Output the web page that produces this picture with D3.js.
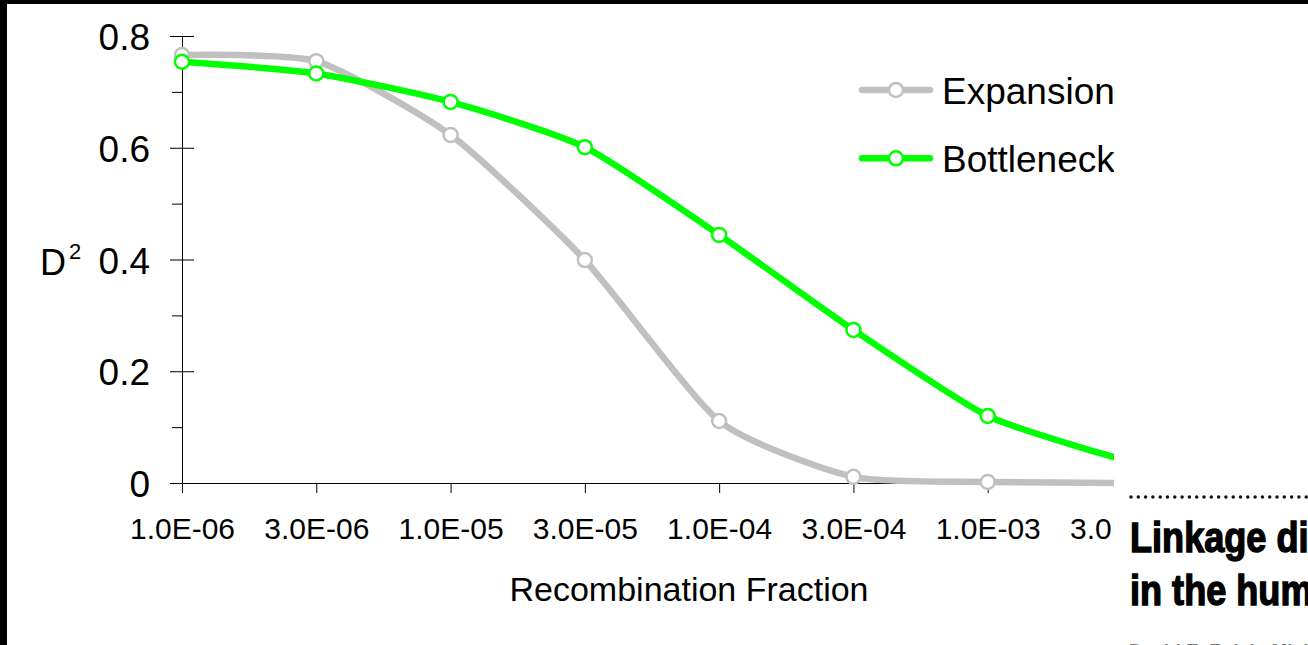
<!DOCTYPE html>
<html>
<head>
<meta charset="utf-8">
<script src="https://d3js.org/d3.v7.min.js"></script>
<style>
    body { margin: 0; background: #fff; }
    svg { display: block; font-family: 'Liberation Sans', Arial, sans-serif; }
</style>
</head>
<body>
<div id="chart"></div>
<script>
// Data
const categories = ['1.0E-06', '3.0E-06', '1.0E-05', '3.0E-05', '1.0E-04', '3.0E-04', '1.0E-03', '3.0E-03'];
const expansion = [0.766, 0.755, 0.623, 0.399, 0.111, 0.011, 0.002, 0.0];
const bottleneck = [0.754, 0.733, 0.682, 0.601, 0.444, 0.274, 0.12, 0.042];
const seriesNames = ['Expansion', 'Bottleneck'];
const yMajorTicks = [0, 0.2, 0.4, 0.6, 0.8];
const yMinorTicks = [0.1, 0.3, 0.5, 0.7];
const headline = ['Linkage disequilibrium', 'in the human genome'];
const byline = 'David E. Reich, Michele Cargill, Stacey Bolk';

const W = 1308, H = 645;
const colors = { Expansion: '#c0c0c0', Bottleneck: '#00ff00' };

const svg = d3.select('#chart')
    .append('svg')
    .attr('width', W)
    .attr('height', H);

svg.append('rect').attr('width', W).attr('height', H).attr('fill', '#fff');

// chart is cut off on the right
svg.append('clipPath')
    .attr('id', 'cut')
    .append('rect')
    .attr('x', 0).attr('y', 0)
    .attr('width', 1114).attr('height', H);

const chart = svg.append('g').attr('clip-path', 'url(#cut)');

// Scales
const x = d3.scalePoint()
    .domain(categories)
    .range([182, 1122]);

const y = d3.scaleLinear()
    .domain([0, 0.8])
    .range([483, 36]);

// Y axis (major ticks cross the axis line)
const yAxis = chart.append('g')
    .attr('transform', 'translate(182,0)')
    .call(d3.axisLeft(y)
        .tickValues(yMajorTicks)
        .tickSizeInner(12)
        .tickSizeOuter(0)
        .tickFormat(d => d === 0 ? '0' : d.toFixed(1)));
yAxis.selectAll('.tick line').attr('x1', 12).attr('x2', -12);
yAxis.selectAll('.tick text')
    .attr('x', -32)
    .attr('dy', '0.37em')
    .style('font-size', '37px')
    .style('font-family', "'Liberation Sans', Arial, sans-serif")
    .attr('fill', '#000');

// minor ticks
chart.append('g')
    .attr('transform', 'translate(182,0)')
    .call(d3.axisLeft(y)
        .tickValues(yMinorTicks)
        .tickSize(10)
        .tickFormat(''))
    .select('.domain').remove();

// X axis
const xAxis = chart.append('g')
    .attr('transform', 'translate(0,483)')
    .call(d3.axisBottom(x)
        .tickSizeInner(10)
        .tickSizeOuter(0)
        .tickPadding(24.7));
xAxis.selectAll('.tick text')
    .style('font-size', '30px')
    .style('font-family', "'Liberation Sans', Arial, sans-serif")
    .attr('fill', '#000');

// Axis titles
chart.append('text')
    .attr('x', 689)
    .attr('y', 601)
    .attr('text-anchor', 'middle')
    .style('font-size', '34px')
    .text('Recombination Fraction');

const yTitle = chart.append('text')
    .attr('x', 40)
    .attr('y', 275)
    .style('font-size', '36px');
yTitle.append('tspan').text('D');
yTitle.append('tspan')
    .attr('dx', 3)
    .attr('dy', -16)
    .style('font-size', '22px')
    .text('2');

// Lines
const line = d3.line()
    .x((d, i) => x(categories[i]))
    .y(d => y(d))
    .curve(d3.curveCardinal.tension(0.4));

[[seriesNames[0], expansion], [seriesNames[1], bottleneck]].forEach(([name, values]) => {
    const c = colors[name];
    chart.append('path')
        .datum(values)
        .attr('d', line)
        .attr('fill', 'none')
        .attr('stroke', c)
        .attr('stroke-width', 6.5)
        .attr('stroke-linejoin', 'round');

    chart.selectAll(null)
        .data(values)
        .enter()
        .append('circle')
        .attr('cx', (d, i) => x(categories[i]))
        .attr('cy', d => y(d))
        .attr('r', 7)
        .attr('fill', '#fff')
        .attr('stroke', c)
        .attr('stroke-width', 2.5);
});

// Legend
const legend = chart.append('g');
seriesNames.forEach((name, i) => {
    const ly = 90 + i * 68.3;
    legend.append('line')
        .attr('x1', 862).attr('x2', 930)
        .attr('y1', ly).attr('y2', ly)
        .attr('stroke', colors[name])
        .attr('stroke-width', 6.5)
        .attr('stroke-linecap', 'round');
    legend.append('circle')
        .attr('cx', 896).attr('cy', ly)
        .attr('r', 7)
        .attr('fill', '#fff')
        .attr('stroke', colors[name])
        .attr('stroke-width', 2.5);
    legend.append('text')
        .attr('x', 942)
        .attr('y', ly + 13.5)
        .style('font-size', '37px')
        .text(name);
});

// Frame bits from the scan
svg.append('rect').attr('x', 0).attr('y', 0).attr('width', W).attr('height', 4).attr('fill', '#000');
svg.append('rect').attr('x', 0).attr('y', 0).attr('width', 7).attr('height', H).attr('fill', '#000');

// Article snippet on the right (condensed heavy headline)
const article = svg.append('g');
article.append('line')
    .attr('x1', 1131).attr('x2', W)
    .attr('y1', 497).attr('y2', 497)
    .attr('stroke', '#111')
    .attr('stroke-width', 3.5)
    .attr('stroke-linecap', 'round')
    .attr('stroke-dasharray', '0,7.3');

headline.forEach((t, i) => {
    article.append('text')
        .attr('transform', `translate(1130,${552 + i * 53}) scale(0.86,1)`)
        .style('font-weight', 'bold')
        .style('font-size', '42px')
        .attr('stroke', '#000')
        .attr('stroke-width', 1.4)
        .text(t);
});

article.append('text')
    .attr('x', 1129)
    .attr('y', 657)
    .style('font-weight', 'bold')
    .style('font-size', '19px')
    .attr('fill', '#777')
    .text(byline);
</script>
</body>
</html>
